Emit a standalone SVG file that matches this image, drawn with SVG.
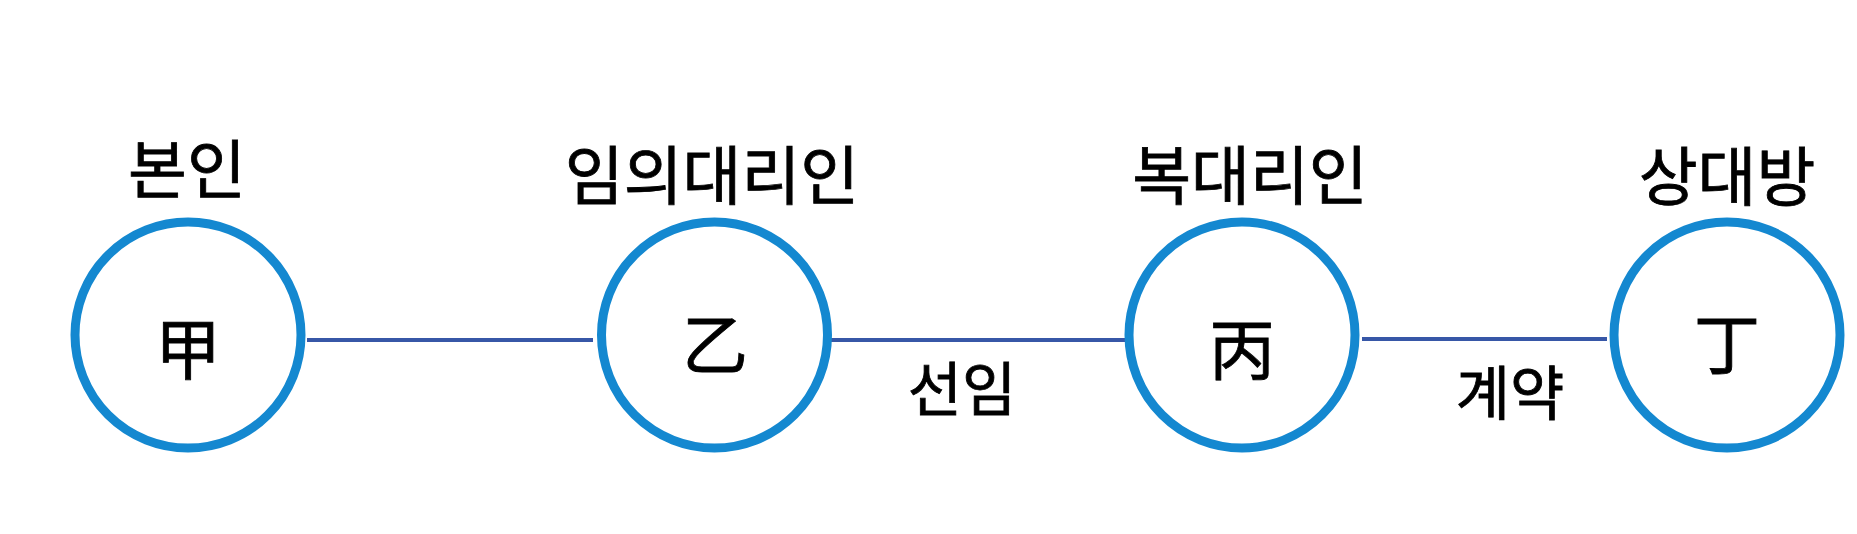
<svg xmlns="http://www.w3.org/2000/svg" width="1857" height="534" viewBox="0 0 1857 534">
<style>
.node circle{fill:#fff;stroke:#1488D0;stroke-width:9}
.title,.glyph,.elabel{font-family:"Noto Sans CJK KR","Noto Sans CJK SC",sans-serif;fill:#000;stroke:#000;stroke-width:0.8;text-anchor:middle;dominant-baseline:central}
.title{font-size:64px}
.glyph{font-size:66px}
.elabel{font-size:59px}
.edge line{stroke:#3757A7;stroke-width:4}
</style>
<rect width="1857" height="534" fill="#fff"/>
<g id="connectors" class="edge">
<line x1="307" y1="340" x2="593" y2="340"/>
<line x1="830" y1="340" x2="1128" y2="340"/>
<line x1="1362" y1="339" x2="1607" y2="339"/>
<text class="elabel" x="962" y="385">선임</text>
<text class="elabel" x="1510" y="389">계약</text>
</g>
<g id="node-gap" class="node">
<text class="title" x="187" y="165">본인</text>
<circle cx="188" cy="335" r="113"/>
<text class="glyph" x="188" y="345">甲</text>
</g>
<g id="node-eul" class="node">
<text class="title" x="712" y="171">임의대리인</text>
<circle cx="714.5" cy="335" r="113"/>
<text class="glyph" x="715" y="340">乙</text>
</g>
<g id="node-byeong" class="node">
<text class="title" x="1250" y="171">복대리인</text>
<circle cx="1242" cy="335" r="113"/>
<text class="glyph" x="1242" y="345">丙</text>
</g>
<g id="node-jeong" class="node">
<text class="title" x="1727" y="172">상대방</text>
<circle cx="1727" cy="335" r="113"/>
<text class="glyph" x="1727" y="340">丁</text>
</g>
</svg>
